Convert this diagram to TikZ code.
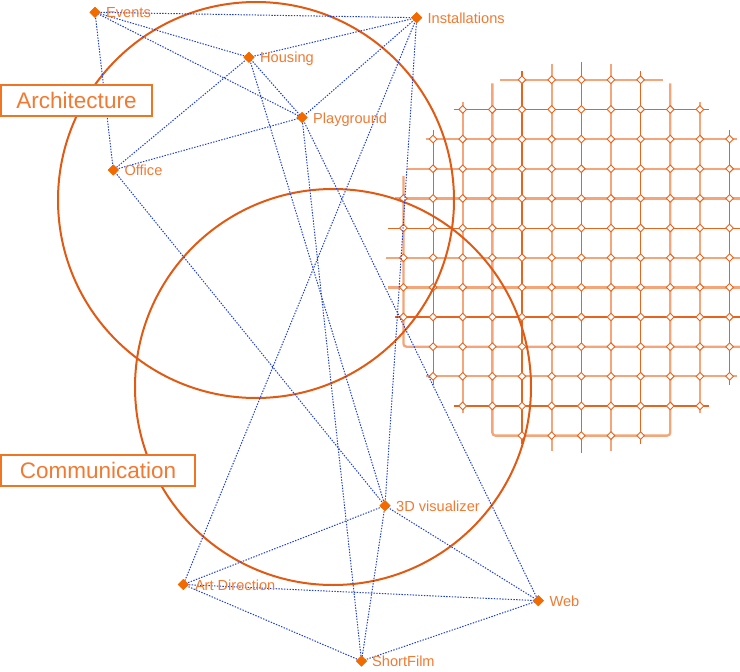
\documentclass[tikz,border=0pt]{standalone}
\usepackage{fontspec}
\setmainfont{Liberation Sans}
\usetikzlibrary{shapes.geometric,calc}
\definecolor{gD}{HTML}{E8641E}
\definecolor{gL}{HTML}{F5A57A}
\definecolor{circ}{HTML}{E05A14}
\definecolor{boxc}{HTML}{F07522}
\definecolor{lab}{HTML}{F07A32}
\definecolor{markc}{HTML}{F26B00}
\definecolor{edge}{HTML}{1E3FD4}
\begin{document}
\begin{tikzpicture}[x=1pt,y=-1pt,
  gDk/.style={draw=gD,line width=1.1pt},
  gLt/.style={draw=gL,line width=2.3pt},
  gdia/.style={diamond,draw=gD,fill=white,line width=0.9pt,minimum size=8pt,inner sep=0pt},
  ring/.style={draw=circ,line width=2pt},
  tag/.style={draw=boxc,fill=white,line width=2pt,text=lab,font=\fontsize{22.5}{26}\selectfont,inner sep=0pt},
  mk/.style={diamond,fill=markc,minimum size=11pt,inner sep=0pt},
  lbl/.style={text=lab,font=\fontsize{14.6}{17}\selectfont,inner sep=0pt,anchor=base west},
  link/.style={draw=edge,line width=1pt,dash pattern=on 1.4pt off 1.4pt}]
\useasboundingbox (0,0) rectangle (740,672);
% ---------- grid ----------
\def\gx{581.3}\def\gy{257.7}\def\gs{29.65}
\foreach \j/\st in {-6/gLt,-5/gDk,-4/gLt,-3/gLt,-2/gLt,-1/gDk,0/gLt,1/gLt,2/gDk,4/gLt,5/gDk}{
  \pgfmathsetmacro\L{sqrt(43.56-(\j)*(\j))}
  \draw[\st] ({\gx-\L*\gs},{\gy+\j*\gs}) -- ({\gx+\L*\gs},{\gy+\j*\gs});
}
\foreach \i/\st in {-5/gDk,-4/gLt,-2/gDk,-1/gLt,0/gDk,1/gLt,2/gDk,4/gLt,5/gDk}{
  \pgfmathsetmacro\L{sqrt(43.56-(\i)*(\i))}
  \draw[\st] ({\gx+\i*\gs},{\gy-\L*\gs}) -- ({\gx+\i*\gs},{\gy+\L*\gs});
}
\draw[gLt,rounded corners=3pt] ({\gx-6*\gs},{\gy-2.75*\gs}) -- ({\gx-6*\gs},{\gy+3*\gs}) -- ({\gx+6*\gs},{\gy+3*\gs}) -- ({\gx+6*\gs},{\gy-2.75*\gs});
\draw[gLt,rounded corners=3pt] ({\gx-3*\gs},{\gy-5.88*\gs}) -- ({\gx-3*\gs},{\gy+6*\gs}) -- ({\gx+3*\gs},{\gy+6*\gs}) -- ({\gx+3*\gs},{\gy-5.88*\gs});
\foreach \i in {-6,...,6}{\foreach \j in {-6,...,6}{
  \pgfmathtruncatemacro\ok{((\i)*(\i)+(\j)*(\j)<=41)?1:0}
  \ifnum\ok=1 \node[gdia] (g\i\j) at ({\gx+\i*\gs},{\gy+\j*\gs}) {};\fi
}}
% ---------- circles ----------
\draw[ring] (256,200) circle[radius=198pt];
\draw[ring] (333,387) circle[radius=198pt];
% ---------- markers ----------
\node[mk] (ev) at (95,12.3) {};
\node[mk] (inst) at (416.7,17.7) {};
\node[mk] (hous) at (249,57.3) {};
\node[mk] (play) at (302,117.5) {};
\node[mk] (off) at (113.3,170) {};
\node[mk] (vis) at (385,505.7) {};
\node[mk] (art) at (183.3,584.5) {};
\node[mk] (web) at (538.3,600.7) {};
\node[mk] (sf) at (361.5,661) {};
% ---------- links ----------
\foreach \a/\b in {ev/inst,ev/hous,ev/play,ev/off,hous/inst,hous/off,hous/play,hous/vis,
  inst/play,inst/art,inst/vis,off/play,off/vis,play/sf,play/web,vis/art,vis/web,vis/sf,
  art/web,art/sf,sf/web}
  \draw[link] (\a.center) -- (\b.center);
% redraw markers on top
\foreach \n in {ev,inst,hous,play,off,vis,art,web,sf}
  \fill[markc] ($(\n.center)+(-5.5,0)$) -- ($(\n.center)+(0,-5.5)$) -- ($(\n.center)+(5.5,0)$) -- ($(\n.center)+(0,5.5)$) -- cycle;
% ---------- labels ----------
\node[lbl] (evT) at ($(ev.center)+(11,5.6)$) {Events};
\node[lbl] (instT) at ($(inst.center)+(10.7,5.6)$) {Installations};
\node[lbl] (housT) at ($(hous.center)+(11,5.6)$) {Housing};
\node[lbl] (playT) at ($(play.center)+(11,5.6)$) {Playground};
\node[lbl] (offT) at ($(off.center)+(11,5.6)$) {Office};
\node[lbl] (visT) at ($(vis.center)+(11,5.6)$) {3D visualizer};
\node[lbl] (artT) at ($(art.center)+(11.5,5.6)$) {Art Direction};
\node[lbl] (webT) at ($(web.center)+(11,5.6)$) {Web};
\node[lbl] (sfT) at ($(sf.center)+(10.5,5.6)$) {ShortFilm};
% ---------- boxes ----------
\node[tag,minimum width=151pt,minimum height=31pt] (archB) at (76.5,100.5) {Architecture};
\node[tag,minimum width=194pt,minimum height=31pt] (commB) at (98,470.5) {Communication};
\end{tikzpicture}
\end{document}
